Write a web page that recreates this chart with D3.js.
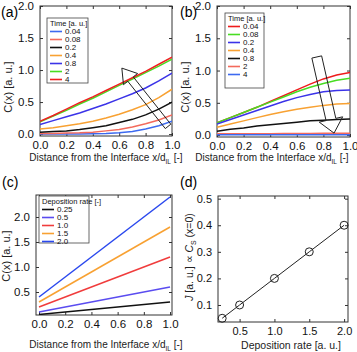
<!DOCTYPE html>
<html>
<head>
<meta charset="utf-8">
<script src="https://cdn.jsdelivr.net/npm/d3@7"></script>
<style>
  body { margin: 0; background: #fff; }
  svg { font-family: "Liberation Sans", Arial, sans-serif; }
</style>
</head>
<body>
<svg width="357" height="352"></svg>
<script>
// data
const xs = [0, 0.1, 0.2, 0.3, 0.4, 0.5, 0.6, 0.7, 0.8, 0.9, 1.0];

const timesA = ['0.04', '0.08', '0.2', '0.4', '0.8', '2', '4'];
const colorsA = ['#3d6af0', '#f36a5c', '#111111', '#f8a132', '#3b33e8', '#48dd22', '#ee2020'];
const seriesA = [
  [0, 0, 0, 0, 0.005, 0.01, 0.02, 0.04, 0.08, 0.13, 0.2],
  [0.01, 0.01, 0.015, 0.02, 0.03, 0.05, 0.07, 0.11, 0.16, 0.22, 0.30],
  [0.03, 0.04, 0.05, 0.07, 0.1, 0.13, 0.18, 0.23, 0.3, 0.39, 0.5],
  [0.08, 0.1, 0.13, 0.16, 0.2, 0.25, 0.31, 0.38, 0.46, 0.57, 0.70],
  [0.15, 0.21, 0.27, 0.33, 0.4, 0.47, 0.55, 0.63, 0.72, 0.83, 0.95],
  [0.19, 0.28, 0.37, 0.47, 0.56, 0.66, 0.76, 0.86, 0.96, 1.06, 1.17],
  [0.2, 0.29, 0.39, 0.49, 0.58, 0.68, 0.78, 0.88, 0.98, 1.09, 1.2]
];

const timesB = ['0.04', '0.08', '0.2', '0.4', '0.8', '2', '4'];
const colorsB = ['#ee1c1c', '#48dd22', '#3b33e8', '#f8a132', '#111111', '#f36a5c', '#3d6af0'];
const seriesB = [
  [0.19, 0.27, 0.35, 0.43, 0.52, 0.61, 0.70, 0.79, 0.87, 0.93, 0.97],
  [0.19, 0.27, 0.35, 0.43, 0.51, 0.59, 0.67, 0.74, 0.80, 0.85, 0.88],
  [0.17, 0.24, 0.31, 0.38, 0.45, 0.52, 0.58, 0.63, 0.67, 0.69, 0.70],
  [0.12, 0.17, 0.22, 0.27, 0.32, 0.36, 0.40, 0.43, 0.46, 0.48, 0.49],
  [0.06, 0.09, 0.11, 0.14, 0.16, 0.18, 0.20, 0.22, 0.23, 0.24, 0.25],
  [0.02, 0.02, 0.02, 0.02, 0.02, 0.025, 0.025, 0.025, 0.03, 0.03, 0.03],
  [0.005, 0.005, 0.005, 0.005, 0.005, 0.005, 0.005, 0.005, 0.005, 0.005, 0.005]
];

const ratesC = ['0.25', '0.5', '1.0', '1.5', '2.0'];
const colorsC = ['#111111', '#5a4cf0', '#f03c3c', '#f8a132', '#2a48ee'];
const xsC = [0, 1];
const seriesC = [
  [0.05, 0.3],
  [0.1, 0.6],
  [0.2, 1.2],
  [0.3, 1.8],
  [0.4, 2.4]
];

const ratesD = [0.25, 0.5, 1.0, 1.5, 2.0];
const fluxD = [0.05, 0.1, 0.2, 0.3, 0.4];

const svg = d3.select('svg');

// draws a framed panel with inward ticks on all four sides
function panel(o) {
  const x = d3.scaleLinear().domain(o.xd).range(o.xr);
  const y = d3.scaleLinear().domain(o.yd).range(o.yr);
  const g = svg.append('g');
  const [x0, x1] = o.xr, [y1, y0] = o.yr;

  const tk = 3;
  g.append('g').attr('transform', `translate(0,${y1})`)
    .call(d3.axisBottom(x).tickValues(o.xt).tickSize(-tk).tickPadding(5).tickFormat(o.xf))
    .call(a => a.select('.domain').remove())
    .selectAll('text').attr('font-size', o.fs).attr('fill', '#111');
  g.append('g').attr('transform', `translate(0,${y0})`)
    .call(d3.axisTop(x).tickValues(o.xt).tickSize(-tk).tickFormat(''))
    .call(a => a.select('.domain').remove());
  g.append('g').attr('transform', `translate(${x0},0)`)
    .call(d3.axisLeft(y).tickValues(o.yt).tickSize(-tk).tickPadding(6).tickFormat(o.yf))
    .call(a => a.select('.domain').remove())
    .selectAll('text').attr('font-size', o.fs).attr('fill', '#111');
  g.append('g').attr('transform', `translate(${x1},0)`)
    .call(d3.axisRight(y).tickValues(o.yt).tickSize(-tk).tickFormat(''))
    .call(a => a.select('.domain').remove());
  g.selectAll('.tick line').attr('stroke', '#333');

  g.append('rect')
    .attr('x', x0).attr('y', y0)
    .attr('width', x1 - x0).attr('height', y1 - y0)
    .attr('fill', 'none').attr('stroke', '#333').attr('stroke-width', 1);

  const clipId = 'clip' + o.id;
  g.append('clipPath').attr('id', clipId).append('rect')
    .attr('x', x0).attr('y', y0).attr('width', x1 - x0).attr('height', y1 - y0);
  const plot = g.append('g').attr('clip-path', `url(#${clipId})`);

  return { g, plot, x, y };
}

function xLabel(g, cx, cy) {
  const t = g.append('text').attr('x', cx).attr('y', cy)
    .attr('text-anchor', 'middle').attr('font-size', 10).attr('fill', '#222');
  t.append('tspan').text('Distance from the Interface x/d');
  t.append('tspan').attr('font-size', 6.5).attr('dy', 3).text('IL');
  t.append('tspan').attr('dy', -3).text(' [-]');
}

function yLabelC(g, cx, cy) {
  g.append('text')
    .attr('transform', `translate(${cx},${cy}) rotate(-90)`)
    .attr('text-anchor', 'middle').attr('font-size', 11).attr('fill', '#222')
    .text('C(x) [a. u.]');
}

function legend(g, x, y, w, h, title, names, colors) {
  g.append('rect').attr('x', x).attr('y', y).attr('width', w).attr('height', h)
    .attr('fill', '#fff').attr('stroke', '#444').attr('stroke-width', 0.8);
  g.append('text').attr('x', x + 3).attr('y', y + 8).attr('font-size', 7.5)
    .attr('fill', '#111').text(title);
  names.forEach((n, i) => {
    const yy = y + 16 + i * 8;
    g.append('line').attr('x1', x + 3).attr('x2', x + 15).attr('y1', yy - 2.5).attr('y2', yy - 2.5)
      .attr('stroke', colors[i]).attr('stroke-width', 1.6);
    g.append('text').attr('x', x + 18).attr('y', yy).attr('font-size', 8)
      .attr('fill', '#111').text(n);
  });
}

// hollow arrow from (xa,ya) to tip (xb,yb) in pixel space
function hollowArrow(g, a, b, sw, hw, hl) {
  const dx = b[0] - a[0], dy = b[1] - a[1];
  const L = Math.hypot(dx, dy);
  const ux = dx / L, uy = dy / L, px = -uy, py = ux;
  const base = [b[0] - ux * hl, b[1] - uy * hl];
  const pts = [
    [a[0] + px * sw / 2, a[1] + py * sw / 2],
    [base[0] + px * sw / 2, base[1] + py * sw / 2],
    [base[0] + px * hw / 2, base[1] + py * hw / 2],
    b,
    [base[0] - px * hw / 2, base[1] - py * hw / 2],
    [base[0] - px * sw / 2, base[1] - py * sw / 2],
    [a[0] - px * sw / 2, a[1] - py * sw / 2]
  ];
  g.append('path').attr('d', d3.line()(pts) + 'Z')
    .attr('fill', 'none').attr('stroke', '#222').attr('stroke-width', 1);
}

const f1 = d3.format('.1f');
const xTicks = [0, 0.2, 0.4, 0.6, 0.8, 1.0];

// (a)
{
  const p = panel({ id: 'a', xd: [0, 1], xr: [40, 172], yd: [-0.03, 2.0], yr: [136, 6],
    xt: xTicks, yt: [0, 0.5, 1.0, 1.5, 2.0], xf: f1, yf: f1, fs: 11.5 });
  const line = d3.line().x((d, i) => p.x(xs[i])).y(d => p.y(d));
  p.plot.selectAll('path.s').data(seriesA).join('path').attr('class', 's')
    .attr('d', line).attr('fill', 'none').attr('stroke', (d, i) => colorsA[i]).attr('stroke-width', 1.5);
  hollowArrow(p.g, [p.x(0.97), p.y(0.12)], [p.x(0.62), p.y(1.03)], 7, 18, 14);
  legend(p.g, 47, 18, 41, 65, 'Time [a. u.]', timesA, colorsA);
  yLabelC(p.g, 12, 87);
  xLabel(p.g, 106, 161);
  p.g.append('text').attr('x', 1).attr('y', 17).attr('font-size', 14).text('(a)');
}

// (b)
{
  const p = panel({ id: 'b', xd: [0, 1], xr: [217, 350], yd: [-0.03, 2.0], yr: [137, 6],
    xt: xTicks, yt: [0, 0.5, 1.0, 1.5, 2.0], xf: f1, yf: f1, fs: 11.5 });
  const line = d3.line().x((d, i) => p.x(xs[i])).y(d => p.y(d));
  p.plot.selectAll('path.s').data(seriesB).join('path').attr('class', 's')
    .attr('d', line).attr('fill', 'none').attr('stroke', (d, i) => colorsB[i]).attr('stroke-width', 1.5);
  hollowArrow(p.g, [p.x(0.75), p.y(1.21)], [p.x(0.88), p.y(0.03)], 10, 24, 14);
  legend(p.g, 225, 13, 39, 75, 'Time [a. u.]', timesB, colorsB);
  yLabelC(p.g, 189, 87);
  xLabel(p.g, 272, 161);
  p.g.append('text').attr('x', 180).attr('y', 17).attr('font-size', 14).text('(b)');
}

// (c)
{
  const p = panel({ id: 'c', xd: [-0.023, 1.015], xr: [36, 172], yd: [0.04, 2.44], yr: [315, 195],
    xt: xTicks, yt: [0.5, 1.0, 1.5, 2.0], xf: f1, yf: f1, fs: 11.5 });
  const line = d3.line().x((d, i) => p.x(xsC[i])).y(d => p.y(d));
  p.plot.selectAll('path.s').data(seriesC).join('path').attr('class', 's')
    .attr('d', line).attr('fill', 'none').attr('stroke', (d, i) => colorsC[i]).attr('stroke-width', 1.5);
  legend(p.g, 39, 196, 50, 47, 'Deposition rate [-]', ratesC, colorsC);
  yLabelC(p.g, 10, 256);
  xLabel(p.g, 106, 348);
  p.g.append('text').attr('x', 2).attr('y', 187).attr('font-size', 14).text('(c)');
}

// (d)
{
  const p = panel({ id: 'd', xd: [0.19, 2.056], xr: [218, 348], yd: [0.036, 0.51], yr: [322, 196],
    xt: [0.5, 1.0, 1.5, 2.0], yt: [0.1, 0.2, 0.3, 0.4, 0.5], xf: f1, yf: f1, fs: 11 });
  const pts = ratesD.map((r, i) => [r, fluxD[i]]);
  p.g.append('path')
    .attr('d', d3.line().x(d => p.x(d[0])).y(d => p.y(d[1]))(pts))
    .attr('fill', 'none').attr('stroke', '#222').attr('stroke-width', 1);
  p.g.selectAll('circle').data(pts).join('circle')
    .attr('cx', d => p.x(d[0])).attr('cy', d => p.y(d[1])).attr('r', 4)
    .attr('fill', 'none').attr('stroke', '#222').attr('stroke-width', 1);
  p.g.append('text').attr('x', 291).attr('y', 349).attr('text-anchor', 'middle')
    .attr('font-size', 10.5).attr('fill', '#222').text('Deposition rate [a. u.]');
  const t = p.g.append('text')
    .attr('transform', 'translate(193,257) rotate(-90)')
    .attr('text-anchor', 'middle').attr('font-size', 10.5).attr('fill', '#222');
  t.append('tspan').attr('font-style', 'italic').text('J');
  t.append('tspan').text(' [a. u.] \u221D ');
  t.append('tspan').attr('font-style', 'italic').text('C');
  t.append('tspan').attr('font-size', 7).attr('dy', 3).text('S');
  t.append('tspan').attr('dy', -3).text(' (x=0)');
  p.g.append('text').attr('x', 180).attr('y', 187).attr('font-size', 14).text('(d)');
}
</script>
</body>
</html>
